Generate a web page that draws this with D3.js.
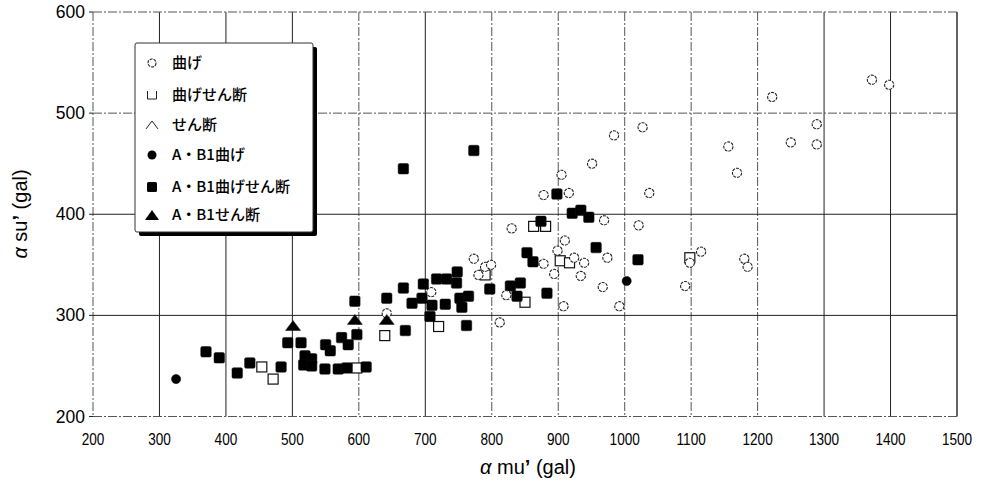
<!DOCTYPE html>
<html>
<head>
<meta charset="utf-8">
<script src="https://cdn.jsdelivr.net/npm/d3@7"></script>
<style>
  body { margin: 0; background: #fff; }
  svg { display: block; }
  .tick-y { font-family: "Liberation Sans", Arial, sans-serif; font-size: 17.5px; fill: #000; }
  .tick-x { font-family: "Liberation Sans", Arial, sans-serif; font-size: 17px; fill: #000; }
  .title { font-family: "Liberation Sans", Arial, sans-serif; font-size: 20px; fill: #000; }
  .leg { font-family: "Noto Sans CJK JP", sans-serif; font-size: 15px; font-weight: 500; fill: #000; }
</style>
</head>
<body>
<svg id="chart" width="982" height="486"></svg>
<script>
// tick values
var xTicks = [200, 300, 400, 500, 600, 700, 800, 900, 1000, 1100, 1200, 1300, 1400, 1500];
var yTicks = [200, 300, 400, 500, 600];

// series: [alpha mu', alpha su']
var bend = [ // 曲げ
  [1372,533],[1398,528],[1222,516],[1289,489],[1250,471],[1289,469],[1156,467],[1169,441],
  [1027,486],[984,478],[951,450],[905,439],[1037,421],[916,421],[878,419],[969,394],[1021,389],
  [830,386],[910,374],[899,364],[924,357],[939,352],[974,357],[878,351],[894,341],[934,339],
  [967,328],[908,309],[992,309],[1091,329],[1115,363],[1098,352],[1180,356],[1185,348],
  [773,356],[790,348],[799,350],[780,340],[822,320],[812,293],[642,302],[709,323]
];
var bendShear = [ // 曲げせん断
  [454,249],[471,237],[597,248],[639,280],[720,289],[790,340],[850,313],[863,388],[881,388],
  [903,354],[917,352],[1098,357]
];
var shear = []; // せん断 (no visible points)
var abBend = [[325,237],[1003,334]]; // A・B1曲げ
var abBendShear = [ // A・B1曲げせん断
  [370,264],[390,258],[417,243],[436,253],[483,249],[493,273],[513,273],[519,260],[529,257],
  [517,251],[529,250],[550,271],[557,265],[549,247],[569,247],[582,248],[611,249],[574,278],
  [584,271],[597,281],[594,314],[642,317],[667,445],[773,463],[670,285],[707,299],[762,290],
  [667,327],[697,331],[717,336],[732,336],[748,343],[747,332],[680,312],[695,317],[710,310],
  [730,311],[752,317],[765,319],[755,308],[797,326],[828,329],[843,332],[838,319],[883,322],
  [853,362],[862,353],[874,393],[898,420],[921,401],[934,404],[946,397],[957,367],[1020,355]
];
var abShear = [[501,290],[594,296],[642,296]]; // A・B1せん断

var legendLabels = ["曲げ", "曲げせん断", "せん断", "A・B1曲げ", "A・B1曲げせん断", "A・B1せん断"];

var svg = d3.select("#chart");
var x = d3.scaleLinear().domain([200, 1500]).range([93, 957]);
var y = d3.scaleLinear().domain([200, 600]).range([416.5, 12]);

// which grid lines look solid in the scan
var solidX = [300, 400, 500, 700, 1300, 1400, 1500];
var solidY = [300, 400];

var grid = svg.append("g");
grid.selectAll(".gx").data(xTicks).enter().append("line")
  .attr("x1", function(d) { return x(d); }).attr("x2", function(d) { return x(d); })
  .attr("y1", y(600)).attr("y2", y(200))
  .attr("stroke", function(d) { return solidX.indexOf(d) >= 0 ? "#222" : "#555"; })
  .attr("stroke-width", function(d) { return d == 1500 ? 1.4 : 1; })
  .attr("stroke-dasharray", function(d) { return solidX.indexOf(d) >= 0 ? null : "9,2,2,2"; });
grid.selectAll(".gy").data(yTicks).enter().append("line")
  .attr("x1", x(200)).attr("x2", x(1500))
  .attr("y1", function(d) { return y(d); }).attr("y2", function(d) { return y(d); })
  .attr("stroke", function(d) { return solidY.indexOf(d) >= 0 ? "#222" : "#555"; })
  .attr("stroke-width", 1)
  .attr("stroke-dasharray", function(d) { return solidY.indexOf(d) >= 0 ? null : "9,2,2,2"; });

// small y ticks
grid.selectAll(".ty").data(yTicks).enter().append("line")
  .attr("x1", x(200) - 4).attr("x2", x(200))
  .attr("y1", function(d) { return y(d); }).attr("y2", function(d) { return y(d); })
  .attr("stroke", "#222");

// tick labels
svg.selectAll(".tick-y").data(yTicks).enter().append("text")
  .attr("class", "tick-y")
  .attr("x", x(200) - 8).attr("y", function(d) { return y(d) + 6; })
  .attr("text-anchor", "end")
  .text(function(d) { return d; });
svg.selectAll(".tick-x").data(xTicks).enter().append("text")
  .attr("class", "tick-x")
  .attr("transform", function(d) { return "translate(" + x(d) + ",445) scale(0.8,1)"; })
  .attr("text-anchor", "middle")
  .text(function(d) { return d; });

// axis titles
var xt = svg.append("text").attr("class", "title")
  .attr("x", 528).attr("y", 474).attr("text-anchor", "middle");
xt.append("tspan").attr("font-style", "italic").text("α");
xt.append("tspan").text(" mu");
xt.append("tspan").attr("font-weight", "bold").text("’");
xt.append("tspan").text(" (gal)");
var yt = svg.append("text").attr("class", "title")
  .attr("transform", "translate(27,214) rotate(-90)").attr("text-anchor", "middle");
yt.append("tspan").attr("font-style", "italic").text("α");
yt.append("tspan").text(" su");
yt.append("tspan").attr("font-weight", "bold").text("’");
yt.append("tspan").text(" (gal)");

// symbols
function square(g, data, s, filled) {
  g.selectAll(null).data(data).enter().append("rect")
    .attr("x", function(d) { return x(d[0]) - s / 2; })
    .attr("y", function(d) { return y(d[1]) - s / 2; })
    .attr("width", s).attr("height", s).attr("rx", filled ? 1.5 : 0)
    .attr("fill", filled ? "#000" : "#fff")
    .attr("stroke", "#111").attr("stroke-width", filled ? 0.5 : 1.2);
}
function circle(g, data, r, filled) {
  g.selectAll(null).data(data).enter().append("circle")
    .attr("cx", function(d) { return x(d[0]); })
    .attr("cy", function(d) { return y(d[1]); })
    .attr("r", r)
    .attr("fill", filled ? "#000" : "#fff")
    .attr("stroke", filled ? "#000" : "#222")
    .attr("stroke-width", filled ? 0.5 : 1.1)
    .attr("stroke-dasharray", filled ? null : "3,1");
}
function tri(cx, cy, w, h) {
  return "M" + cx + "," + (cy - h / 2) + "L" + (cx + w / 2) + "," + (cy + h / 2) + "L" + (cx - w / 2) + "," + (cy + h / 2) + "Z";
}
function triangle(g, data, filled) {
  g.selectAll(null).data(data).enter().append("path")
    .attr("d", function(d) { return tri(x(d[0]), y(d[1]), 15, 10); })
    .attr("fill", filled ? "#000" : "none")
    .attr("stroke", "#111").attr("stroke-width", filled ? 0.5 : 1);
}

var pts = svg.append("g");
square(pts, bendShear, 10, false);
square(pts, abBendShear, 10.5, true);
circle(pts, bend, 4.6, false);
circle(pts, abBend, 4.6, true);
triangle(pts, shear, false);
triangle(pts, abShear, true);

// legend
var lg = svg.append("g");
lg.append("rect").attr("x", 139).attr("y", 47).attr("width", 178).attr("height", 189)
  .attr("rx", 2).attr("fill", "#000");
lg.append("rect").attr("x", 135).attr("y", 43).attr("width", 178).attr("height", 189)
  .attr("rx", 2).attr("fill", "#fff").attr("stroke", "#333").attr("stroke-width", 1);

var rowY = [63, 95, 125, 155, 187, 215];
var sx = 152;
lg.append("circle").attr("cx", sx).attr("cy", rowY[0]).attr("r", 4)
  .attr("fill", "#fff").attr("stroke", "#222").attr("stroke-width", 1.1).attr("stroke-dasharray", "3,1");
lg.append("path").attr("d", "M" + (sx - 4.5) + "," + (rowY[1] - 4) + "V" + (rowY[1] + 4) + "H" + (sx + 4.5) + "V" + (rowY[1] - 4))
  .attr("fill", "none").attr("stroke", "#222").attr("stroke-width", 1);
lg.append("path").attr("d", "M" + (sx - 6) + "," + (rowY[2] + 4) + "L" + sx + "," + (rowY[2] - 4) + "L" + (sx + 6) + "," + (rowY[2] + 4))
  .attr("fill", "none").attr("stroke", "#222").attr("stroke-width", 1);
lg.append("circle").attr("cx", sx).attr("cy", rowY[3]).attr("r", 4.5).attr("fill", "#000");
lg.append("rect").attr("x", sx - 5).attr("y", rowY[4] - 5).attr("width", 10).attr("height", 10).attr("rx", 1.5).attr("fill", "#000");
lg.append("path").attr("d", tri(sx, rowY[5], 14, 10)).attr("fill", "#000");

lg.selectAll(".leg").data(legendLabels).enter().append("text")
  .attr("class", "leg")
  .attr("x", 172).attr("y", function(d, i) { return rowY[i] + 5; })
  .text(function(d) { return d; });
</script>
</body>
</html>
